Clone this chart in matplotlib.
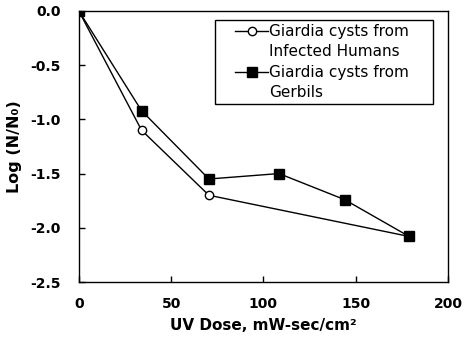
import matplotlib.pyplot as plt
from matplotlib.lines import Line2D
from matplotlib.legend_handler import HandlerLine2D

# UV inactivation of Giardia cysts
dose_humans = [0, 34, 70.5, 179]
log_humans = [0.0, -1.10, -1.70, -2.08]

dose_gerbils = [0, 34, 70.5, 108.5, 144, 179]
log_gerbils = [0.0, -0.92, -1.55, -1.50, -1.74, -2.08]


class FirstLineHandler(HandlerLine2D):
    """Legend handle set level with the first line of a two-line label."""

    def create_artists(self, legend, orig_handle, xdescent, ydescent,
                       width, height, fontsize, trans):
        arts = super().create_artists(legend, orig_handle, xdescent, ydescent,
                                      width, height, fontsize, trans)
        for a in arts:
            a.set_ydata([y + 0.72 * fontsize for y in a.get_ydata()])
        return arts


fig = plt.figure(figsize=(4.69, 3.41), dpi=100)
ax = fig.add_axes([0.168, 0.173, 0.787, 0.795])

ax.plot(dose_humans, log_humans, color='black', lw=1.0, marker='o',
        ms=6, mfc='white', mec='black', mew=1.0,
        label='Giardia cysts from\nInfected Humans')
ax.plot(dose_gerbils, log_gerbils, color='black', lw=1.0, marker='s',
        ms=7, mfc='black', mec='black',
        label='Giardia cysts from\nGerbils')

ax.set_xlim(0, 200)
ax.set_ylim(-2.5, 0.0)
ax.set_xticks([0, 50, 100, 150, 200])
ax.set_yticks([0.0, -0.5, -1.0, -1.5, -2.0, -2.5])
ax.set_yticklabels(['0.0', '-0.5', '-1.0', '-1.5', '-2.0', '-2.5'])
ax.tick_params(direction='in', length=4, width=1, labelsize=10)
ax.tick_params(axis='x', pad=11)
ax.tick_params(axis='y', pad=13)
for lab in ax.get_xticklabels() + ax.get_yticklabels():
    lab.set_fontweight('bold')
for sp in ax.spines.values():
    sp.set_linewidth(1.0)

ax.set_xlabel('UV Dose, mW-sec/cm²', fontsize=11, fontweight='bold', labelpad=5)
ax.set_ylabel('Log (N/N₀)', fontsize=11.5, fontweight='bold', labelpad=6)

leg = ax.legend(loc='upper left', bbox_to_anchor=(0.369, 0.661, 0.59, 0.306),
                mode='expand', borderaxespad=0, fontsize=11, fancybox=False,
                edgecolor='black', framealpha=1, handlelength=3.2,
                handletextpad=0.05, labelspacing=0.4, borderpad=0.3,
                handler_map={Line2D: FirstLineHandler(xpad=1.0)})
leg.get_frame().set_linewidth(1.0)
for t in leg.get_texts():
    t.set_linespacing(1.38)

fig.savefig('out.png', dpi=100)
